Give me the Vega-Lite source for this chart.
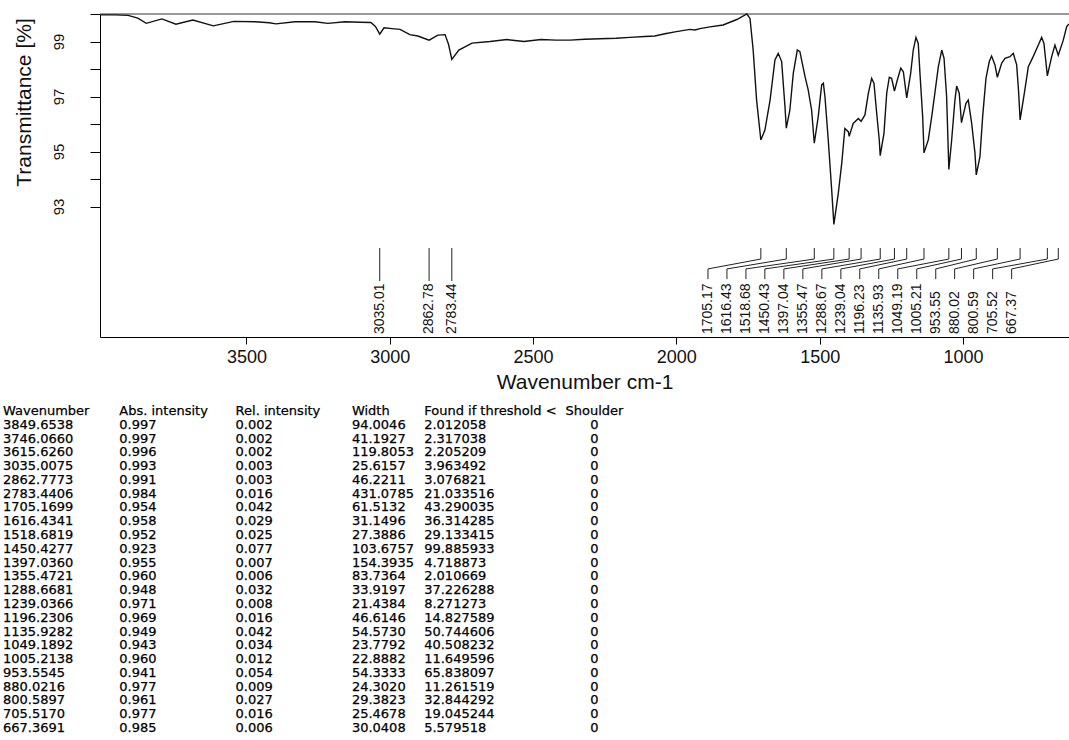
{
  "$schema": "https://vega.github.io/schema/vega-lite/v6.json",
  "width": 969,
  "height": 323,
  "autosize": "none",
  "padding": {"left": 100, "top": 14, "right": 0, "bottom": 403},
  "background": "white",
  "config": {"view": {"stroke": null}, "font": "Liberation Sans"},
  "datasets": {
    "spectrum": [
      {"wn":4008,"T":99.97},{"wn":3958,"T":99.97},{"wn":3913,"T":99.95},{"wn":3879,"T":99.85},{"wn":3849.7,"T":99.66},
      {"wn":3795,"T":99.82},{"wn":3746,"T":99.63},{"wn":3687,"T":99.78},{"wn":3615.6,"T":99.57},{"wn":3544,"T":99.73},
      {"wn":3470,"T":99.72},{"wn":3420,"T":99.68},{"wn":3397,"T":99.64},{"wn":3331,"T":99.72},{"wn":3261,"T":99.72},
      {"wn":3216,"T":99.66},{"wn":3156,"T":99.72},{"wn":3104,"T":99.7},{"wn":3066,"T":99.69},{"wn":3050,"T":99.55},
      {"wn":3035,"T":99.27},{"wn":3020,"T":99.5},{"wn":2992,"T":99.47},{"wn":2964,"T":99.44},{"wn":2930,"T":99.25},
      {"wn":2902,"T":99.2},{"wn":2862.8,"T":99.05},{"wn":2832,"T":99.23},{"wn":2807,"T":99.25},{"wn":2795,"T":98.9},
      {"wn":2783.4,"T":98.35},{"wn":2759,"T":98.69},{"wn":2713,"T":98.94},{"wn":2650,"T":99.0},{"wn":2591,"T":99.07},
      {"wn":2532,"T":99.0},{"wn":2472,"T":99.07},{"wn":2420,"T":99.05},{"wn":2371,"T":99.05},{"wn":2320,"T":99.08},
      {"wn":2267,"T":99.1},{"wn":2210,"T":99.12},{"wn":2162,"T":99.15},{"wn":2110,"T":99.18},{"wn":2075,"T":99.2},
      {"wn":2040,"T":99.28},{"wn":2005,"T":99.35},{"wn":1953,"T":99.44},{"wn":1935,"T":99.42},{"wn":1918,"T":99.47},
      {"wn":1883,"T":99.53},{"wn":1837,"T":99.6},{"wn":1789,"T":99.8},{"wn":1754,"T":100.0},{"wn":1743,"T":99.84},
      {"wn":1732,"T":98.69},{"wn":1720,"T":96.87},{"wn":1705.2,"T":95.42},{"wn":1691,"T":95.78},{"wn":1673,"T":96.87},
      {"wn":1656,"T":98.33},{"wn":1644.5,"T":98.57},{"wn":1632.6,"T":98.27},{"wn":1621,"T":96.63},{"wn":1616.4,"T":95.85},
      {"wn":1604,"T":96.5},{"wn":1592,"T":97.84},{"wn":1578,"T":98.69},{"wn":1569,"T":98.63},{"wn":1551,"T":97.72},
      {"wn":1540,"T":97.24},{"wn":1528,"T":96.5},{"wn":1518.7,"T":95.3},{"wn":1505,"T":96.27},{"wn":1493,"T":97.42},
      {"wn":1487,"T":97.48},{"wn":1481.5,"T":96.99},{"wn":1470,"T":95.42},{"wn":1458,"T":93.6},{"wn":1450.4,"T":92.35},
      {"wn":1435,"T":93.48},{"wn":1423,"T":94.57},{"wn":1412,"T":95.84},{"wn":1400,"T":95.72},{"wn":1397,"T":95.55},
      {"wn":1383,"T":96.02},{"wn":1365,"T":96.2},{"wn":1355.5,"T":96.1},{"wn":1342,"T":96.33},{"wn":1330,"T":97.12},
      {"wn":1318.6,"T":97.66},{"wn":1310.5,"T":97.48},{"wn":1301,"T":96.39},{"wn":1292,"T":95.42},{"wn":1288.7,"T":94.85},
      {"wn":1275.6,"T":95.66},{"wn":1266,"T":97.12},{"wn":1257,"T":97.7},{"wn":1249,"T":97.66},{"wn":1239,"T":97.2},
      {"wn":1229,"T":97.6},{"wn":1217,"T":98.03},{"wn":1208,"T":97.9},{"wn":1196.2,"T":96.95},{"wn":1182.5,"T":97.84},
      {"wn":1173.4,"T":98.69},{"wn":1164,"T":99.15},{"wn":1156,"T":98.93},{"wn":1150,"T":97.84},{"wn":1140.6,"T":96.27},
      {"wn":1135.9,"T":94.95},{"wn":1121,"T":95.42},{"wn":1109,"T":96.27},{"wn":1098,"T":97.12},{"wn":1086,"T":98.08},
      {"wn":1074,"T":98.69},{"wn":1066,"T":98.39},{"wn":1057,"T":96.99},{"wn":1049.2,"T":94.35},{"wn":1039.4,"T":95.42},
      {"wn":1028,"T":96.87},{"wn":1022,"T":97.38},{"wn":1013,"T":97.12},{"wn":1005.2,"T":96.05},{"wn":989.5,"T":96.75},
      {"wn":981.5,"T":96.87},{"wn":969.6,"T":96.02},{"wn":958,"T":94.93},{"wn":953.6,"T":94.15},{"wn":940.7,"T":94.81},
      {"wn":931.3,"T":96.27},{"wn":919.7,"T":97.66},{"wn":908.2,"T":98.27},{"wn":900,"T":98.47},{"wn":888.3,"T":98.15},
      {"wn":880,"T":97.7},{"wn":865,"T":98.21},{"wn":853.5,"T":98.39},{"wn":836,"T":98.45},{"wn":824.5,"T":98.57},
      {"wn":812.6,"T":98.15},{"wn":806,"T":97.2},{"wn":800.6,"T":96.15},{"wn":784,"T":97.24},{"wn":772,"T":98.08},
      {"wn":755,"T":98.45},{"wn":737,"T":98.87},{"wn":725.4,"T":99.15},{"wn":717.4,"T":98.93},{"wn":705.5,"T":97.75},
      {"wn":690.5,"T":98.45},{"wn":679,"T":98.87},{"wn":667.4,"T":98.5},{"wn":650,"T":99.05},{"wn":638,"T":99.54},
      {"wn":630,"T":99.64}
    ],
    "peaks": [
      {"wn":3035.01,"labelX":3035.01},{"wn":2862.78,"labelX":2862.78},{"wn":2783.44,"labelX":2783.44},
      {"wn":1705.17,"labelX":1889.7},{"wn":1616.43,"labelX":1823.5},{"wn":1518.68,"labelX":1757.2},
      {"wn":1450.43,"labelX":1691.2},{"wn":1397.04,"labelX":1624.9},{"wn":1355.47,"labelX":1558.6},
      {"wn":1288.67,"labelX":1492.3},{"wn":1239.04,"labelX":1426},{"wn":1196.23,"labelX":1360.1},
      {"wn":1135.93,"labelX":1293.8},{"wn":1049.19,"labelX":1227.5},{"wn":1005.21,"labelX":1161.2},
      {"wn":953.55,"labelX":1094.9},{"wn":880.02,"labelX":1029},{"wn":800.59,"labelX":962.7},
      {"wn":705.52,"labelX":896.4},{"wn":667.37,"labelX":830.1}
    ],
    "peakTable": [
      {"wn":"Wavenumber","abs":"Abs. intensity","rel":"Rel. intensity","width":"Width","found":"Found if threshold <","sh":"Shoulder"},
      {"wn":"3849.6538","abs":"0.997","rel":"0.002","width":"94.0046","found":"2.012058","sh":"0"},
      {"wn":"3746.0660","abs":"0.997","rel":"0.002","width":"41.1927","found":"2.317038","sh":"0"},
      {"wn":"3615.6260","abs":"0.996","rel":"0.002","width":"119.8053","found":"2.205209","sh":"0"},
      {"wn":"3035.0075","abs":"0.993","rel":"0.003","width":"25.6157","found":"3.963492","sh":"0"},
      {"wn":"2862.7773","abs":"0.991","rel":"0.003","width":"46.2211","found":"3.076821","sh":"0"},
      {"wn":"2783.4406","abs":"0.984","rel":"0.016","width":"431.0785","found":"21.033516","sh":"0"},
      {"wn":"1705.1699","abs":"0.954","rel":"0.042","width":"61.5132","found":"43.290035","sh":"0"},
      {"wn":"1616.4341","abs":"0.958","rel":"0.029","width":"31.1496","found":"36.314285","sh":"0"},
      {"wn":"1518.6819","abs":"0.952","rel":"0.025","width":"27.3886","found":"29.133415","sh":"0"},
      {"wn":"1450.4277","abs":"0.923","rel":"0.077","width":"103.6757","found":"99.885933","sh":"0"},
      {"wn":"1397.0360","abs":"0.955","rel":"0.007","width":"154.3935","found":"4.718873","sh":"0"},
      {"wn":"1355.4721","abs":"0.960","rel":"0.006","width":"83.7364","found":"2.010669","sh":"0"},
      {"wn":"1288.6681","abs":"0.948","rel":"0.032","width":"33.9197","found":"37.226288","sh":"0"},
      {"wn":"1239.0366","abs":"0.971","rel":"0.008","width":"21.4384","found":"8.271273","sh":"0"},
      {"wn":"1196.2306","abs":"0.969","rel":"0.016","width":"46.6146","found":"14.827589","sh":"0"},
      {"wn":"1135.9282","abs":"0.949","rel":"0.042","width":"54.5730","found":"50.744606","sh":"0"},
      {"wn":"1049.1892","abs":"0.943","rel":"0.034","width":"23.7792","found":"40.508232","sh":"0"},
      {"wn":"1005.2138","abs":"0.960","rel":"0.012","width":"22.8882","found":"11.649596","sh":"0"},
      {"wn":"953.5545","abs":"0.941","rel":"0.054","width":"54.3333","found":"65.838097","sh":"0"},
      {"wn":"880.0216","abs":"0.977","rel":"0.009","width":"24.3020","found":"11.261519","sh":"0"},
      {"wn":"800.5897","abs":"0.961","rel":"0.027","width":"29.3823","found":"32.844292","sh":"0"},
      {"wn":"705.5170","abs":"0.977","rel":"0.016","width":"25.4678","found":"19.045244","sh":"0"},
      {"wn":"667.3691","abs":"0.985","rel":"0.006","width":"30.0408","found":"5.579518","sh":"0"}
    ]
  },
  "layer": [
    {
      "layer": [
        {
          "data": {"values": [{}]},
          "mark": {"type": "rule", "color": "#333", "strokeWidth": 1},
          "encoding": {"y": {"datum": 100, "type": "quantitative"}}
        },
        {
          "data": {"name": "spectrum"},
          "mark": {"type": "line", "color": "#111", "strokeWidth": 1.4},
          "encoding": {
            "x": {
              "field": "wn", "type": "quantitative",
              "scale": {"domain": [630, 4011], "reverse": true, "nice": false, "zero": false},
              "axis": {
                "values": [1000, 1500, 2000, 2500, 3000, 3500], "format": "d", "grid": false,
                "title": "Wavenumber cm-1", "tickSize": 7, "labelFontSize": 18, "labelPadding": 4,
                "labelFlush": false, "titleFontSize": 21, "titleFontWeight": "normal", "titlePadding": 5,
                "domainColor": "#000", "tickColor": "#000", "labelColor": "#111", "titleColor": "#111",
                "labelFont": "Liberation Sans", "titleFont": "Liberation Sans"
              }
            },
            "y": {
              "field": "T", "type": "quantitative",
              "scale": {"domain": [88.255, 100], "nice": false, "zero": false},
              "axis": {
                "values": [93, 94, 95, 96, 97, 98, 99, 100], "grid": false,
                "labelExpr": "datum.value % 2 === 1 ? datum.label : ''",
                "labelAngle": 270, "labelAlign": "center", "labelBaseline": "alphabetic",
                "labelFontSize": 15, "labelPadding": 27, "tickSize": 10, "labelOverlap": false, "labelFlush": false,
                "title": "Transmittance [%]", "titleFontSize": 21, "titleFontWeight": "normal",
                "titleAngle": 270, "titleX": -70, "titleY": 88, "titleAlign": "center", "titleBaseline": "alphabetic",
                "domainColor": "#000", "tickColor": "#000", "labelColor": "#111", "titleColor": "#111",
                "labelFont": "Liberation Sans", "titleFont": "Liberation Sans"
              }
            }
          }
        },
        {
          "data": {"name": "peaks"},
          "transform": [{"filter": "datum.wn > 2000"}],
          "mark": {"type": "rule", "color": "#222", "strokeWidth": 1},
          "encoding": {
            "x": {"field": "wn", "type": "quantitative"},
            "y": {"datum": 91.49, "type": "quantitative"},
            "y2": {"datum": 90.29}
          }
        },
        {
          "data": {"name": "peaks"},
          "transform": [{"filter": "datum.wn < 2000"}],
          "mark": {"type": "rule", "color": "#222", "strokeWidth": 1},
          "encoding": {
            "x": {"field": "wn", "type": "quantitative"},
            "y": {"datum": 91.49, "type": "quantitative"},
            "y2": {"datum": 91.09}
          }
        },
        {
          "data": {"name": "peaks"},
          "transform": [{"filter": "datum.wn < 2000"}],
          "mark": {"type": "rule", "color": "#222", "strokeWidth": 1},
          "encoding": {
            "x": {"field": "wn", "type": "quantitative"},
            "x2": {"field": "labelX"},
            "y": {"datum": 91.09, "type": "quantitative"},
            "y2": {"datum": 90.73}
          }
        },
        {
          "data": {"name": "peaks"},
          "transform": [{"filter": "datum.wn < 2000"}],
          "mark": {"type": "rule", "color": "#222", "strokeWidth": 1},
          "encoding": {
            "x": {"field": "labelX", "type": "quantitative"},
            "y": {"datum": 90.73, "type": "quantitative"},
            "y2": {"datum": 90.36}
          }
        },
        {
          "data": {"name": "peaks"},
          "mark": {"type": "text", "angle": 270, "align": "left", "baseline": "middle", "font": "Liberation Sans", "fontSize": 14, "color": "#111"},
          "encoding": {
            "x": {"field": "labelX", "type": "quantitative"},
            "y": {"datum": 88.36, "type": "quantitative"},
            "text": {"field": "wn", "type": "quantitative", "format": ".2f"}
          }
        }
      ]
    },
    {
      "data": {"name": "peakTable"},
      "transform": [{"window": [{"op": "row_number", "as": "row"}]}],
      "layer": [
        {
          "transform": [{"fold": ["wn", "abs", "rel", "width"], "as": ["col", "val"]}],
          "mark": {"type": "text", "align": "left", "baseline": "middle", "font": "DejaVu Sans", "fontSize": 13, "color": "#000", "stroke": "#000", "strokeWidth": 0.25},
          "encoding": {
            "x": {"field": "col", "type": "nominal", "scale": {"type": "point", "domain": ["wn", "abs", "rel", "width", "found", "sh"], "range": [-97, 484.5], "padding": 0}, "axis": null},
            "y": {"field": "row", "type": "quantitative", "scale": {"domain": [1, 24], "range": [397, 714], "nice": false, "zero": false}, "axis": null},
            "text": {"field": "val", "type": "nominal"}
          }
        },
        {
          "transform": [{"fold": ["found"], "as": ["col", "val"]}],
          "mark": {"type": "text", "align": "left", "baseline": "middle", "dx": -44, "font": "DejaVu Sans", "fontSize": 13, "color": "#000", "stroke": "#000", "strokeWidth": 0.25},
          "encoding": {
            "x": {"field": "col", "type": "nominal", "axis": null},
            "y": {"field": "row", "type": "quantitative", "axis": null},
            "text": {"field": "val", "type": "nominal"}
          }
        },
        {
          "transform": [{"fold": ["sh"], "as": ["col", "val"]}],
          "mark": {"type": "text", "align": "center", "baseline": "middle", "dx": 10, "font": "DejaVu Sans", "fontSize": 13, "color": "#000", "stroke": "#000", "strokeWidth": 0.25},
          "encoding": {
            "x": {"field": "col", "type": "nominal", "axis": null},
            "y": {"field": "row", "type": "quantitative", "axis": null},
            "text": {"field": "val", "type": "nominal"}
          }
        }
      ]
    }
  ],
  "resolve": {"scale": {"x": "independent", "y": "independent"}}
}
